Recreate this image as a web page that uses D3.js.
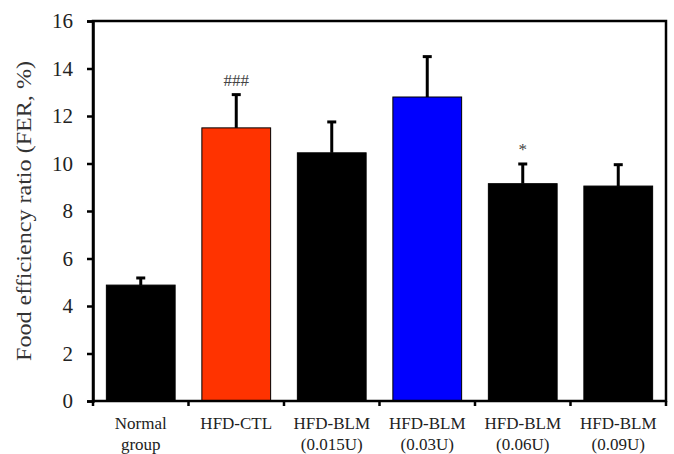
<!DOCTYPE html>
<html>
<head>
<meta charset="utf-8">
<script src="https://cdn.jsdelivr.net/npm/d3@7"></script>
<style>
  body { margin: 0; background: #fff; }
  text { font-family: "Liberation Serif", "Times New Roman", serif; }
</style>
</head>
<body>
<div id="chart"></div>
<script>
// Data
const groups = ["Normal group", "HFD-CTL", "HFD-BLM (0.015U)", "HFD-BLM (0.03U)", "HFD-BLM (0.06U)", "HFD-BLM (0.09U)"];
const labelLines = [["Normal", "group"], ["HFD-CTL"], ["HFD-BLM", "(0.015U)"], ["HFD-BLM", "(0.03U)"], ["HFD-BLM", "(0.06U)"], ["HFD-BLM", "(0.09U)"]];
const means = [4.88, 11.5, 10.45, 12.8, 9.15, 9.05];
const errors = [0.3, 1.4, 1.3, 1.7, 0.83, 0.9];
const marks = ["", "###", "", "", "*", ""];
const colors = ["#000000", "#ff3300", "#000000", "#0000ff", "#000000", "#000000"];
const yTicks = [0, 2, 4, 6, 8, 10, 12, 14, 16];

const width = 674, height = 454;
const margin = {top: 21, right: 8, bottom: 53, left: 93};

const svg = d3.select("#chart")
    .append("svg")
    .attr("width", width)
    .attr("height", height);

const x = d3.scaleBand()
    .domain(groups)
    .range([margin.left, width - margin.right])
    .paddingInner(0.28)
    .paddingOuter(0.14);

const y = d3.scaleLinear()
    .domain([0, 16])
    .range([height - margin.bottom, margin.top]);

// Bars
svg.selectAll("rect.bar")
    .data(groups)
    .join("rect")
    .attr("class", "bar")
    .attr("x", d => x(d))
    .attr("width", x.bandwidth())
    .attr("y", (d, i) => y(means[i]))
    .attr("height", (d, i) => y(0) - y(means[i]))
    .attr("fill", (d, i) => colors[i])
    .attr("stroke", "#000")
    .attr("stroke-width", 1);

// Error bars (upper only)
const capW = 9;
svg.selectAll("line.err")
    .data(groups)
    .join("line")
    .attr("class", "err")
    .attr("x1", d => x(d) + x.bandwidth() / 2)
    .attr("x2", d => x(d) + x.bandwidth() / 2)
    .attr("y1", (d, i) => y(means[i]))
    .attr("y2", (d, i) => y(means[i] + errors[i]))
    .attr("stroke", "#000")
    .attr("stroke-width", 3);

svg.selectAll("line.cap")
    .data(groups)
    .join("line")
    .attr("class", "cap")
    .attr("x1", d => x(d) + x.bandwidth() / 2 - capW / 2)
    .attr("x2", d => x(d) + x.bandwidth() / 2 + capW / 2)
    .attr("y1", (d, i) => y(means[i] + errors[i]))
    .attr("y2", (d, i) => y(means[i] + errors[i]))
    .attr("stroke", "#000")
    .attr("stroke-width", 3);

// Significance marks
svg.selectAll("text.mark")
    .data(groups)
    .join("text")
    .attr("class", "mark")
    .attr("x", d => x(d) + x.bandwidth() / 2)
    .attr("y", (d, i) => y(means[i] + errors[i]) - 9)
    .attr("text-anchor", "middle")
    .attr("font-size", 17)
    .attr("fill", "#444")
    .text((d, i) => marks[i]);

// Frame
svg.append("rect")
    .attr("x", margin.left)
    .attr("y", margin.top)
    .attr("width", width - margin.left - margin.right)
    .attr("height", height - margin.top - margin.bottom)
    .attr("fill", "none")
    .attr("stroke", "#000")
    .attr("stroke-width", 2.5);

// Y axis
const yAxis = svg.append("g")
    .attr("transform", `translate(${margin.left},0)`)
    .call(d3.axisLeft(y).tickValues(yTicks).tickSize(6).tickPadding(14));
yAxis.select(".domain").attr("stroke-width", 2.5);
yAxis.selectAll(".tick line").attr("stroke-width", 2.5);
yAxis.selectAll("text")
    .attr("font-size", 21)
    .attr("font-family", "Liberation Serif, serif")
    .attr("fill", "#222");

// X axis ticks at band boundaries
const bounds = groups.map(d => x(d) - x.step() * x.paddingInner() / 2).concat([width - margin.right]);
svg.selectAll("line.xtick")
    .data(bounds)
    .join("line")
    .attr("class", "xtick")
    .attr("x1", d => d)
    .attr("x2", d => d)
    .attr("y1", y(0))
    .attr("y2", y(0) + 5)
    .attr("stroke", "#000")
    .attr("stroke-width", 2.5);

// X labels
const lab = svg.selectAll("text.xlab")
    .data(groups)
    .join("text")
    .attr("class", "xlab")
    .attr("x", d => x(d) + x.bandwidth() / 2)
    .attr("y", y(0) + 28)
    .attr("text-anchor", "middle")
    .attr("font-size", 17)
    .attr("fill", "#222");
lab.selectAll("tspan")
    .data((d, i) => labelLines[i])
    .join("tspan")
    .attr("x", function() { return this.parentNode.getAttribute("x"); })
    .attr("dy", (d, i) => i === 0 ? 0 : 21)
    .text(d => d);

// Y title
svg.append("text")
    .attr("transform", `translate(31, ${(y(0) + y(16)) / 2}) rotate(-90)`)
    .attr("text-anchor", "middle")
    .attr("font-size", 21)
    .attr("textLength", 300)
    .attr("lengthAdjust", "spacingAndGlyphs")
    .attr("fill", "#333")
    .text("Food efficiency ratio (FER, %)");
</script>
</body>
</html>
